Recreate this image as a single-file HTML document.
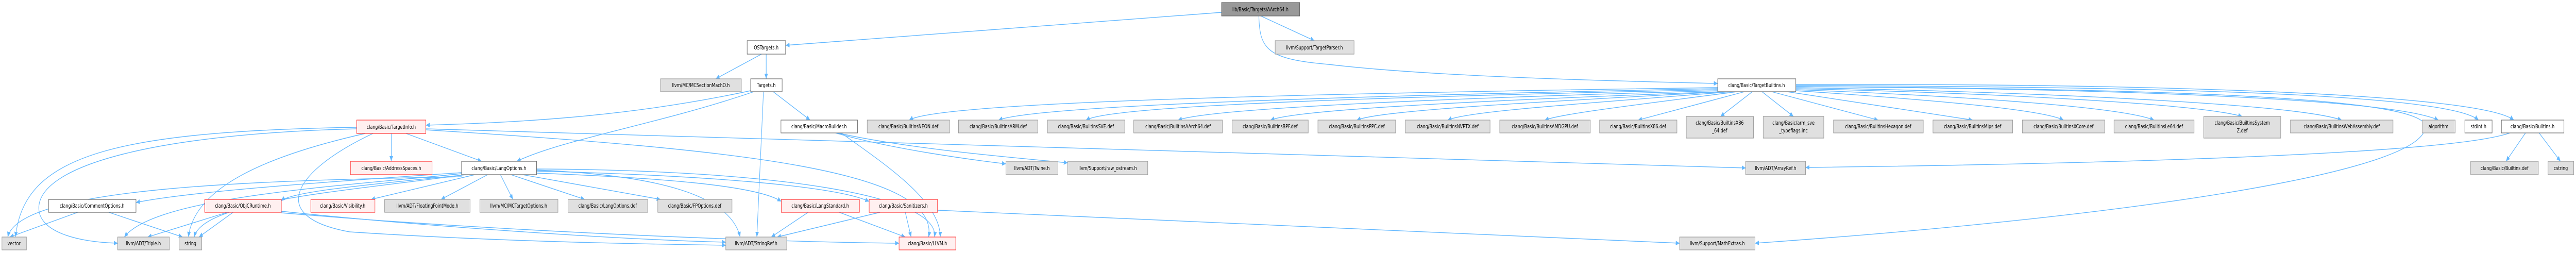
<!DOCTYPE html>
<html><head><meta charset="utf-8"><style>
html,body{margin:0;padding:0;background:#fff;width:100%;height:100%;overflow:hidden;}
svg{display:block;width:100vw;height:100vh;}
text{font-family:"DejaVu Sans","Liberation Sans",sans-serif;font-size:10.6px;fill:#000;text-anchor:middle;}
.e{fill:none;stroke:#63b8ff;stroke-width:1.4;marker-end:url(#a);}
.w{fill:#fff;stroke:#666;stroke-width:1.2;}
.g{fill:#e0e0e0;stroke:#999;stroke-width:1.2;}
.r{fill:#fff0f0;stroke:#f33;stroke-width:1.2;}
.d{fill:#999;stroke:#666;stroke-width:1.2;}
</style></head><body>
<svg viewBox="0 0 6630 491" preserveAspectRatio="none" xmlns="http://www.w3.org/2000/svg">
<defs><marker id="a" markerWidth="11" markerHeight="9" refX="10" refY="4.5" orient="auto" markerUnits="userSpaceOnUse"><path d="M0,0 L10,4.5 L0,9z" fill="#63b8ff"/></marker></defs>
<g>
<path class="e" d="M3245,31 L3383,79"/>
<path class="e" d="M3144,24 L2022,88"/>
<path class="e" d="M3240,31 C3242,95 3260,115 3420,125 C3700,150 4200,158 4421,162"/>
<path class="e" d="M1960,105 L1842,153"/>
<path class="e" d="M1972,105 L1972,153"/>
<path class="e" d="M1990,178 L2085,233"/>
<path class="e" d="M1965,178 L1948,460"/>
<path class="e" d="M1932,176 C1600,230 1300,238 1096,243"/>
<path class="e" d="M1940,178 C1700,240 1450,270 1330,313"/>
<path class="e" d="M1007,259 L1007,313"/>
<path class="e" d="M1045,259 L1240,313"/>
<path class="e" d="M918,247 C300,255 60,300 40,460"/>
<path class="e" d="M918,250 C400,260 110,320 100,400 C95,450 200,470 303,472"/>
<path class="e" d="M940,259 C700,300 500,360 485,460"/>
<path class="e" d="M960,259 C760,330 680,420 900,450 C1300,470 1700,474 1868,476"/>
<path class="e" d="M1096,250 C2500,280 3800,300 4493,326"/>
<path class="e" d="M1096,252 C1900,290 2420,330 2390,460"/>
<path class="e" d="M1188,335 C900,350 500,370 350,393"/>
<path class="e" d="M1200,339 C1000,355 750,370 724,390"/>
<path class="e" d="M1222,339 L955,387"/>
<path class="e" d="M1255,339 L1135,387"/>
<path class="e" d="M1288,339 L1320,387"/>
<path class="e" d="M1315,339 L1505,387"/>
<path class="e" d="M1345,339 L1700,387"/>
<path class="e" d="M1381,336 C1700,345 1950,360 2011,391"/>
<path class="e" d="M1381,332 C1800,340 2150,360 2237,391"/>
<path class="e" d="M1188,343 C700,350 50,360 20,460"/>
<path class="e" d="M1188,337 C900,360 400,380 320,460"/>
<path class="e" d="M1188,340 C900,370 520,390 500,460"/>
<path class="e" d="M1381,330 C1700,340 1880,380 1905,460"/>
<path class="e" d="M1381,328 C2000,330 2420,380 2405,460"/>
<path class="e" d="M200,412 L25,460"/>
<path class="e" d="M280,412 L470,460"/>
<path class="e" d="M585,412 L380,460"/>
<path class="e" d="M600,412 L512,460"/>
<path class="e" d="M724,410 C1100,440 1600,465 1868,470"/>
<path class="e" d="M724,413 C1300,450 2000,470 2314,472"/>
<path class="e" d="M2080,412 L1985,460"/>
<path class="e" d="M2160,412 L2330,460"/>
<path class="e" d="M2265,412 L2000,460"/>
<path class="e" d="M2330,412 L2345,460"/>
<path class="e" d="M2413,408 C3200,430 3900,460 4323,472"/>
<path class="e" d="M2150,258 C2300,290 2500,310 2589,318"/>
<path class="e" d="M2155,258 C2350,290 2600,305 2748,316"/>
<path class="e" d="M2165,258 C2280,320 2420,390 2420,460"/>
<path class="e" d="M4421,170 C3000,185 2400,205 2340,233"/>
<path class="e" d="M4421,172 C3200,190 2650,210 2570,233"/>
<path class="e" d="M4421,174 C3300,192 2850,210 2795,233"/>
<path class="e" d="M4425,176 C3500,195 3100,215 3032,233"/>
<path class="e" d="M4430,178 C3700,198 3330,215 3270,233"/>
<path class="e" d="M4440,178 C3900,200 3550,215 3492,233"/>
<path class="e" d="M4455,178 C4100,200 3780,215 3726,233"/>
<path class="e" d="M4470,178 C4250,200 4020,220 3976,233"/>
<path class="e" d="M4490,178 L4216,233"/>
<path class="e" d="M4510,178 L4428,226"/>
<path class="e" d="M4535,178 L4616,226"/>
<path class="e" d="M4560,178 L4834,233"/>
<path class="e" d="M4600,178 L5077,233"/>
<path class="e" d="M4622,176 C4900,190 5250,210 5311,233"/>
<path class="e" d="M4622,174 C5000,185 5450,205 5544,233"/>
<path class="e" d="M4622,172 C5100,180 5650,200 5771,226"/>
<path class="e" d="M4622,170 C5200,178 5900,200 6027,233"/>
<path class="e" d="M4622,168 C5400,172 6150,190 6276,233"/>
<path class="e" d="M4622,166 C5500,168 6300,180 6379,233"/>
<path class="e" d="M4622,164 C5500,162 6380,180 6470,233"/>
<path class="e" d="M4622,168 C5600,172 6200,190 6240,240 C6280,330 5500,420 4517,472"/>
<path class="e" d="M6460,258 C6300,300 5400,318 4647,325"/>
<path class="e" d="M6500,258 L6450,313"/>
<path class="e" d="M6535,258 L6590,313"/>
</g>
<g>
<rect class="d" x="3144" y="5" width="201" height="26"/><text x="3244" y="22">lib/Basic/Targets/AArch64.h</text>
<rect class="w" x="1923" y="79" width="99" height="26"/><text x="1972" y="96">OSTargets.h</text>
<rect class="g" x="3282" y="79" width="203" height="26"/><text x="3383" y="96">llvm/Support/TargetParser.h</text>
<rect class="g" x="1700" y="153" width="208" height="25"/><text x="1804" y="169">llvm/MC/MCSectionMachO.h</text>
<rect class="w" x="1932" y="153" width="81" height="25"/><text x="1972" y="169">Targets.h</text>
<rect class="w" x="4421" y="153" width="201" height="25"/><text x="4521" y="169">clang/Basic/TargetBuiltins.h</text>

<rect class="r" x="918" y="233" width="178" height="26"/><text x="1007" y="250">clang/Basic/TargetInfo.h</text>
<rect class="w" x="2010" y="233" width="197" height="25"/><text x="2108" y="249">clang/Basic/MacroBuilder.h</text>
<rect class="g" x="2232" y="233" width="212" height="25"/><text x="2338" y="249">clang/Basic/BuiltinsNEON.def</text>
<rect class="g" x="2467" y="233" width="204" height="25"/><text x="2569" y="249">clang/Basic/BuiltinsARM.def</text>
<rect class="g" x="2696" y="233" width="199" height="25"/><text x="2795" y="249">clang/Basic/BuiltinsSVE.def</text>
<rect class="g" x="2918" y="233" width="228" height="25"/><text x="3032" y="249">clang/Basic/BuiltinsAArch64.def</text>
<rect class="g" x="3171" y="233" width="196" height="25"/><text x="3269" y="249">clang/Basic/BuiltinsBPF.def</text>
<rect class="g" x="3392" y="233" width="200" height="25"/><text x="3492" y="249">clang/Basic/BuiltinsPPC.def</text>
<rect class="g" x="3617" y="233" width="218" height="25"/><text x="3726" y="249">clang/Basic/BuiltinsNVPTX.def</text>
<rect class="g" x="3860" y="233" width="233" height="25"/><text x="3976" y="249">clang/Basic/BuiltinsAMDGPU.def</text>
<rect class="g" x="4117" y="233" width="199" height="25"/><text x="4216" y="249">clang/Basic/BuiltinsX86.def</text>
<rect class="g" x="4340" y="226" width="173" height="42"/><text x="4426" y="242">clang/Basic/BuiltinsX86</text><text x="4426" y="257">_64.def</text>
<rect class="g" x="4538" y="226" width="156" height="42"/><text x="4616" y="242">clang/Basic/arm_sve</text><text x="4616" y="257">_typeflags.inc</text>
<rect class="g" x="4719" y="233" width="231" height="25"/><text x="4834" y="249">clang/Basic/BuiltinsHexagon.def</text>
<rect class="g" x="4975" y="233" width="205" height="25"/><text x="5077" y="249">clang/Basic/BuiltinsMips.def</text>
<rect class="g" x="5205" y="233" width="212" height="25"/><text x="5311" y="249">clang/Basic/BuiltinsXCore.def</text>
<rect class="g" x="5441" y="233" width="206" height="25"/><text x="5544" y="249">clang/Basic/BuiltinsLe64.def</text>
<rect class="g" x="5672" y="226" width="198" height="42"/><text x="5771" y="242">clang/Basic/BuiltinsSystem</text><text x="5771" y="257">Z.def</text>
<rect class="g" x="5895" y="233" width="264" height="25"/><text x="6027" y="249">clang/Basic/BuiltinsWebAssembly.def</text>
<rect class="g" x="6234" y="233" width="85" height="25"/><text x="6276" y="249">algorithm</text>
<rect class="w" x="6344" y="233" width="70" height="25"/><text x="6379" y="249">stdint.h</text>
<rect class="w" x="6438" y="233" width="161" height="25"/><text x="6518" y="249">clang/Basic/Builtins.h</text>

<rect class="r" x="902" y="313" width="210" height="26"/><text x="1007" y="330">clang/Basic/AddressSpaces.h</text>
<rect class="w" x="1188" y="313" width="193" height="26"/><text x="1284" y="330">clang/Basic/LangOptions.h</text>
<rect class="g" x="2589" y="313" width="134" height="26"/><text x="2656" y="330">llvm/ADT/Twine.h</text>
<rect class="g" x="2748" y="313" width="206" height="26"/><text x="2851" y="330">llvm/Support/raw_ostream.h</text>
<rect class="g" x="4493" y="313" width="154" height="26"/><text x="4570" y="330">llvm/ADT/ArrayRef.h</text>
<rect class="g" x="6359" y="313" width="174" height="26"/><text x="6446" y="330">clang/Basic/Builtins.def</text>
<rect class="g" x="6558" y="313" width="66" height="26"/><text x="6591" y="330">cstring</text>

<rect class="w" x="125" y="387" width="225" height="25"/><text x="237" y="403">clang/Basic/CommentOptions.h</text>
<rect class="r" x="527" y="387" width="197" height="25"/><text x="625" y="403">clang/Basic/ObjCRuntime.h</text>
<rect class="r" x="800" y="387" width="165" height="25"/><text x="882" y="403">clang/Basic/Visibility.h</text>
<rect class="g" x="990" y="387" width="220" height="25"/><text x="1100" y="403">llvm/ADT/FloatingPointMode.h</text>
<rect class="g" x="1235" y="387" width="201" height="25"/><text x="1335" y="403">llvm/MC/MCTargetOptions.h</text>
<rect class="g" x="1462" y="387" width="205" height="25"/><text x="1564" y="403">clang/Basic/LangOptions.def</text>
<rect class="g" x="1693" y="387" width="191" height="25"/><text x="1788" y="403">clang/Basic/FPOptions.def</text>
<rect class="r" x="2011" y="387" width="201" height="25"/><text x="2111" y="403">clang/Basic/LangStandard.h</text>
<rect class="r" x="2237" y="387" width="176" height="25"/><text x="2325" y="403">clang/Basic/Sanitizers.h</text>

<rect class="g" x="5" y="460" width="63" height="25"/><text x="36" y="476">vector</text>
<rect class="g" x="303" y="460" width="133" height="25"/><text x="369" y="476">llvm/ADT/Triple.h</text>
<rect class="g" x="461" y="460" width="58" height="25"/><text x="490" y="476">string</text>
<rect class="g" x="1868" y="460" width="157" height="25"/><text x="1946" y="476">llvm/ADT/StringRef.h</text>
<rect class="r" x="2314" y="460" width="146" height="25"/><text x="2387" y="476">clang/Basic/LLVM.h</text>
<rect class="g" x="4323" y="460" width="194" height="25"/><text x="4420" y="476">llvm/Support/MathExtras.h</text>
</g>
</svg>
</body></html>
